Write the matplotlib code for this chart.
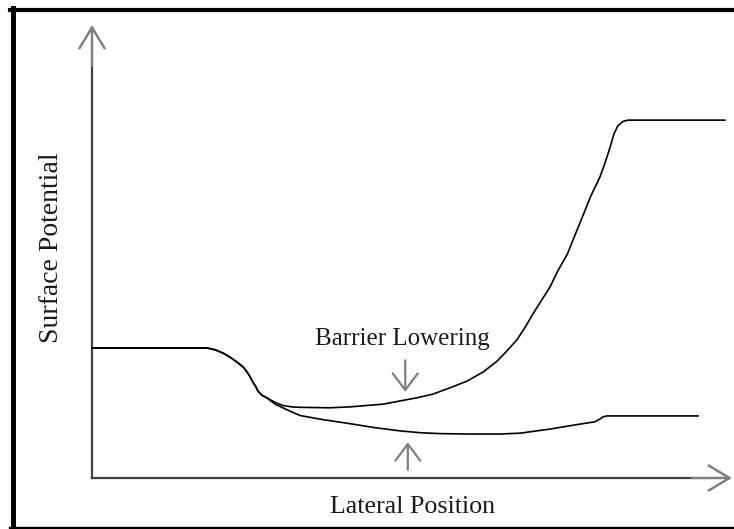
import matplotlib
matplotlib.use("Agg")
import matplotlib.pyplot as plt
from matplotlib.lines import Line2D

# Surface potential along the channel, arbitrary units (0-100 on both axes)
upper_x = [0, 18.0, 19.3, 20.5, 21.6, 22.7, 23.7, 24.3, 24.8, 25.2, 25.7, 26.0,
           26.6, 27.4, 28.7, 29.9, 31.3, 32.6, 37.3, 40.4, 45.6, 50.9, 53.4,
           56.1, 58.8, 61.3, 63.5, 65.0, 66.6, 67.9, 69.1, 70.4, 71.8, 73.0,
           74.5, 75.7, 77.0, 78.2, 79.6, 80.4, 81.2, 81.8, 82.4, 83.2, 84.0,
           99.2]
upper_y = [28.7, 28.7, 28.3, 27.6, 26.7, 25.6, 24.5, 23.4, 22.3, 21.2, 20.1, 19.2,
           18.3, 17.7, 16.7, 16.0, 15.7, 15.6, 15.5, 15.7, 16.3, 17.7, 18.5,
           19.9, 21.4, 23.4, 25.8, 28.0, 30.5, 33.3, 36.2, 39.1, 42.2, 45.7,
           49.4, 53.6, 58.1, 62.3, 66.4, 69.5, 73.0, 75.9, 77.7, 78.7, 79.0,
           79.0]

lower_x = [0, 18.0, 19.3, 20.5, 21.6, 22.7, 23.7, 24.3, 24.8, 25.2, 25.7, 26.0,
           26.6, 27.4, 28.7, 29.9, 31.3, 32.6, 35.7, 40.4, 44.4, 48.3, 51.4,
           54.5, 59.2, 63.9, 67.1, 71.8, 76.5, 78.8, 79.6, 80.1, 80.7, 95.0]
lower_y = [28.7, 28.7, 28.3, 27.6, 26.7, 25.6, 24.5, 23.4, 22.3, 21.2, 20.1, 19.2,
           18.3, 17.7, 16.3, 15.5, 14.6, 13.8, 13.0, 12.0, 11.1, 10.4, 10.0,
           9.8, 9.7, 9.7, 9.9, 10.8, 11.9, 12.4, 13.0, 13.5, 13.7, 13.7]

x_label = "Lateral Position"
y_label = "Surface Potential"
note = "Barrier Lowering"

text_color = "#1a1a1a"
arrow_color = "#808080"

fig = plt.figure(figsize=(7.34, 5.29), dpi=100)
W, H = 734, 529

# axes origin at pixel (92, 478), x=100 at px 730, y=100 at px 25
ax = fig.add_axes([92 / W, (H - 478) / H, 638 / W, 453 / H])
ax.set_xlim(0, 100)
ax.set_ylim(0, 100)
ax.axis("off")

head = "->,head_length=0.75,head_width=0.45"
small_head = "->,head_length=0.6,head_width=0.45"

# axis lines with open arrowheads
ax.plot([0, 94], [0, 0], color="#404040", lw=1.6, clip_on=False)
ax.plot([0, 0], [0, 91], color="#404040", lw=1.6, clip_on=False)
ax.annotate("", xy=(100.3, 0), xytext=(94, 0),
            arrowprops=dict(arrowstyle=head, color=arrow_color, lw=1.8,
                            mutation_scale=20, shrinkA=0, shrinkB=0),
            annotation_clip=False)
ax.annotate("", xy=(0, 100), xytext=(0, 91),
            arrowprops=dict(arrowstyle=head, color=arrow_color, lw=1.8,
                            mutation_scale=20, shrinkA=0, shrinkB=0),
            annotation_clip=False)

# the two potential curves
ax.plot(upper_x, upper_y, color="black", lw=1.2, clip_on=False,
        solid_joinstyle="round")
ax.plot(lower_x, lower_y, color="black", lw=1.2, clip_on=False,
        solid_joinstyle="round")

# barrier lowering markers
ax.annotate("", xy=(49.1, 19.0), xytext=(49.1, 26.0),
            arrowprops=dict(arrowstyle=small_head, color=arrow_color, lw=1.6,
                            mutation_scale=20, shrinkA=0, shrinkB=0))
ax.annotate("", xy=(49.5, 7.9), xytext=(49.5, 1.8),
            arrowprops=dict(arrowstyle=small_head, color=arrow_color, lw=1.6,
                            mutation_scale=20, shrinkA=0, shrinkB=0))

ax.text(48.7, 30.7, note, ha="center", va="center",
        family="Liberation Serif", size=18, color=text_color)
ax.text(50.2, -6.4, x_label, ha="center", va="center", clip_on=False,
        family="Liberation Serif", size=18.7, color=text_color)
ax.text(-6.3, 50.8, y_label, ha="center", va="center", rotation=90,
        clip_on=False, family="Liberation Serif", size=20, color=text_color)

# frame around the picture (right side is cut off)
fig.add_artist(Line2D([12.5 / W, 12.5 / W], [1 - 8 / H, 1 - 529 / H],
                      transform=fig.transFigure, color="black", lw=3.6))
fig.add_artist(Line2D([10 / W, 1], [1 - 10 / H, 1 - 10 / H],
                      transform=fig.transFigure, color="black", lw=3.0))
fig.add_artist(Line2D([10 / W, 1], [1 - 527.5 / H, 1 - 527.5 / H],
                      transform=fig.transFigure, color="black", lw=2.4))

fig.savefig("out.png", dpi=100, facecolor="white")
